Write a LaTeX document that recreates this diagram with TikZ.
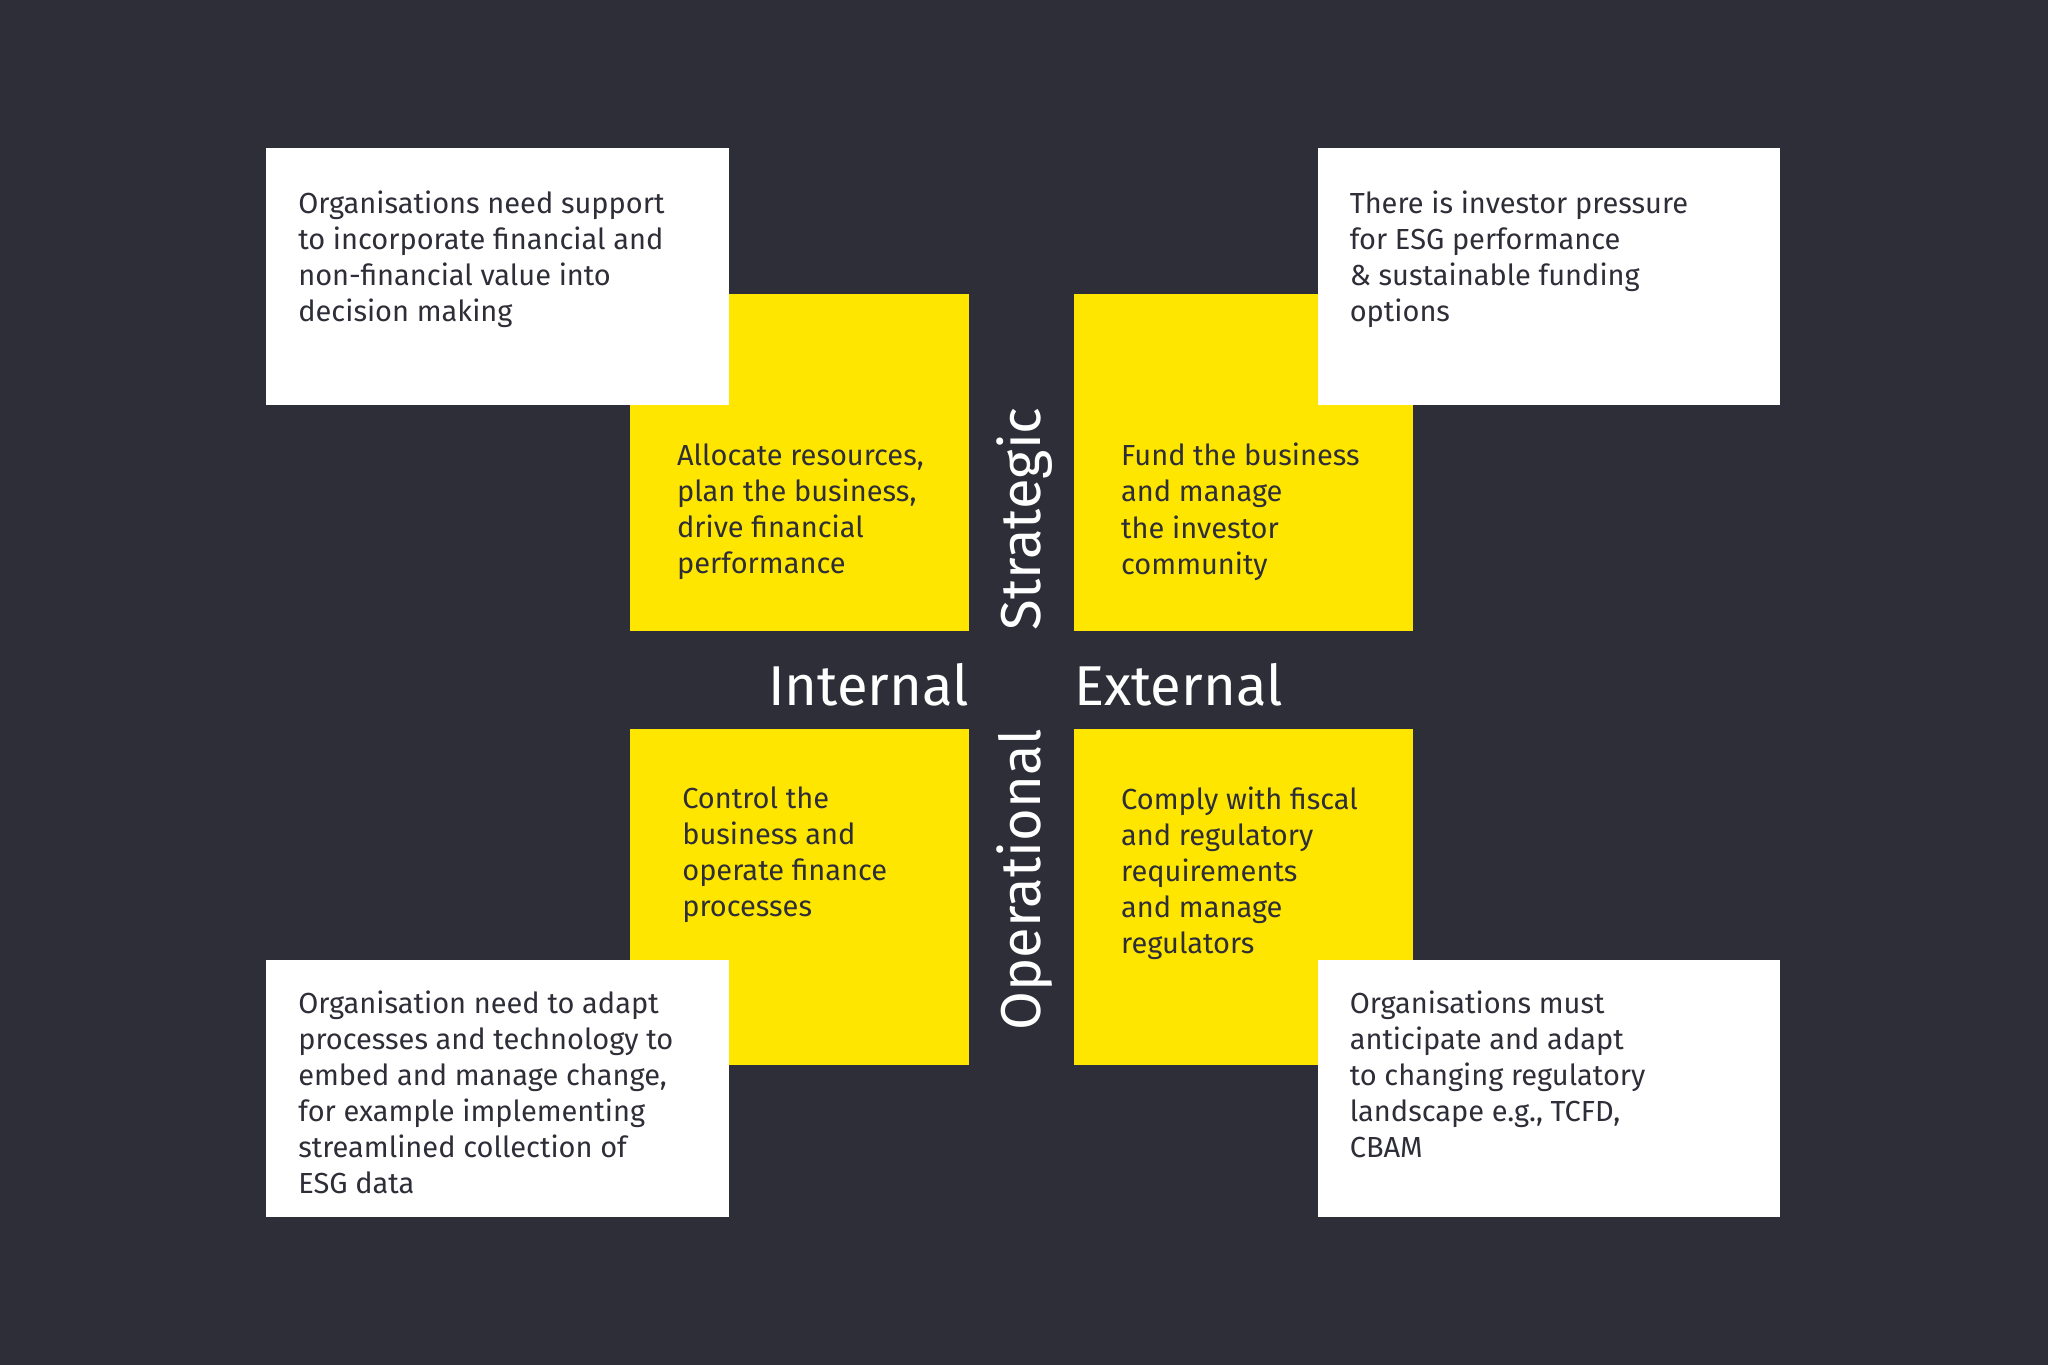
\documentclass[tikz,border=0pt]{standalone}
\usepackage{fontspec}
\setmainfont{Fira Sans}
\usepackage{tikz}
\usetikzlibrary{positioning}
\definecolor{eybg}{HTML}{2E2E38}
\definecolor{eyyellow}{HTML}{FFE600}
\definecolor{eydark}{HTML}{2E2E38}
\tikzset{
  panel/.style={fill=eyyellow},
  note/.style={fill=white},
  txt/.style={anchor=north west,inner sep=0pt,align=left,text=eydark,font=\fontsize{11.1}{13.8}\selectfont},
  axislabel/.style={inner sep=0pt,text=white,font=\fontsize{21.5}{24}\selectfont}
}

\begin{document}
\begin{tikzpicture}[line cap=round,line join=round,x=0.5pt,y=-0.5pt]
\clip(0,0) rectangle (1568,1045);
\fill [eybg] (0,0) rectangle (1568,1045);
% yellow quadrants
\fill [panel] (482,225) rectangle (742,483);
\fill [panel] (822,225) rectangle (1082,483);
\fill [panel] (482,558) rectangle (742,815);
\fill [panel] (822,558) rectangle (1082,815);
% white notes
\fill [note] (204,113) rectangle (558,310);
\fill [note] (1009,113) rectangle (1363,310);
\fill [note] (204,735) rectangle (558,932);
\fill [note] (1009,735) rectangle (1363,932);
% texts
\node [txt] (noteTL) at (228,146) {Organisations need support\\to incorporate financial and\\non-financial value into\\decision making};
\node [txt] (noteTR) at (1033,146) {There is investor pressure\\for ESG performance\\\& sustainable funding\\options};
\node [txt] (noteBL) at (228,758) {Organisation need to adapt\\processes and technology to\\embed and manage change,\\for example implementing\\streamlined collection of\\ESG data};
\node [txt] (noteBR) at (1033,758) {Organisations must\\anticipate and adapt\\to changing regulatory\\landscape e.g., TCFD,\\CBAM};
\node [txt] (quadTL) at (518,339) {Allocate resources,\\plan the business,\\drive financial\\performance};
\node [txt] (quadTR) at (858,339) {Fund the business\\and manage\\the investor\\community};
\node [txt] (quadBL) at (522,602) {Control the\\business and\\operate finance\\processes};
\node [txt] (quadBR) at (858,602) {Comply with fiscal\\and regulatory\\requirements\\and manage\\regulators};
% axis labels
\node [axislabel,anchor=base east] (internal) at (742,540) {Internal};
\node [axislabel,anchor=base west] (external) at (822,540) {External};
\node [axislabel,rotate=90,anchor=base west] (strategic) at (797,483) {Strategic};
\node [axislabel,rotate=90,anchor=base east] (operational) at (797,558) {Operational};
\end{tikzpicture}
\end{document}
